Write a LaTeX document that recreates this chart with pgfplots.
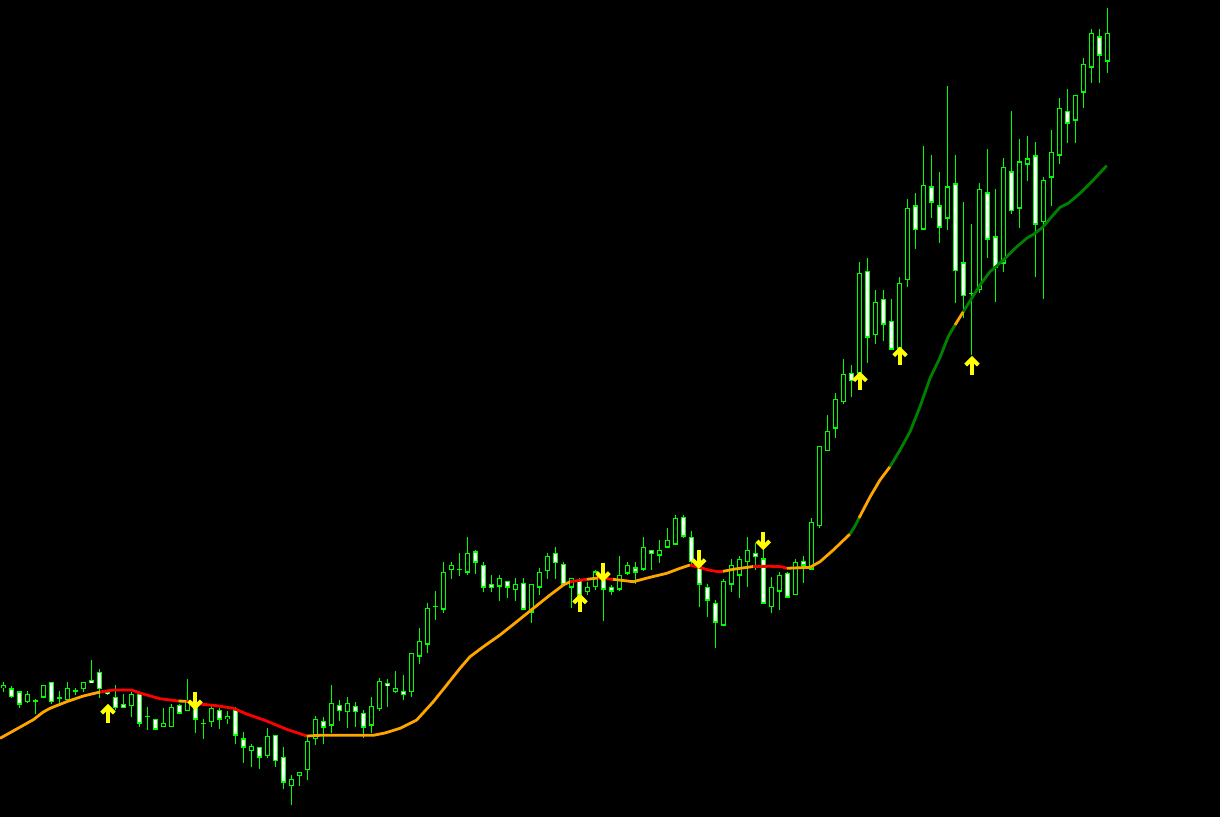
\documentclass[border=0pt]{standalone}
\usepackage{pgfplots}
\usepackage{pgfplotstable}
\pgfplotsset{compat=1.18}

\definecolor{candle}{RGB}{0,255,0}
\definecolor{maorange}{RGB}{255,165,0}
\definecolor{mared}{RGB}{255,0,0}
\definecolor{magreen}{RGB}{0,128,0}
\definecolor{sig}{RGB}{255,255,0}

% signal arrows
\pgfdeclareplotmark{sigup}{%
  \pgfsetlinewidth{4pt}\pgfsetbuttcap\pgfsetmiterjoin
  \pgfpathmoveto{\pgfpoint{0pt}{-9pt}}\pgfpathlineto{\pgfpoint{0pt}{6.5pt}}\pgfusepathqstroke
  \pgfpathmoveto{\pgfpoint{-6.3pt}{0.5pt}}\pgfpathlineto{\pgfpoint{0pt}{6.8pt}}%
  \pgfpathlineto{\pgfpoint{6.3pt}{0.5pt}}\pgfusepathqstroke}
\pgfdeclareplotmark{sigdown}{%
  \pgfsetlinewidth{4pt}\pgfsetbuttcap\pgfsetmiterjoin
  \pgfpathmoveto{\pgfpoint{0pt}{9pt}}\pgfpathlineto{\pgfpoint{0pt}{-6.5pt}}\pgfusepathqstroke
  \pgfpathmoveto{\pgfpoint{-6.3pt}{-0.5pt}}\pgfpathlineto{\pgfpoint{0pt}{-6.8pt}}%
  \pgfpathlineto{\pgfpoint{6.3pt}{-0.5pt}}\pgfusepathqstroke}

% candles in screen units (smaller = higher price)
\pgfplotstableread{
i o h l c
0 687.7 682.3 691.7 685.3
1 688.7 685.7 697.7 696.7
2 691.7 690.7 707.7 704.3
3 701.7 691 703.3 694.3
4 701 698.7 714 701
5 697.3 685 697.3 685.3
6 682.3 682 704.3 701.7
7 697.5 691.3 704 697.5
8 700 682 702.7 688.3
9 691 688 695 691
10 689 682.3 692.3 682.3
11 680.3 660 683 682.7
12 672.3 669.3 697.7 688.7
13 691.7 689.7 695 694
14 697.3 685.3 710 707.7
15 704.3 694 707.7 707.7
16 705.7 691.7 716.7 694.3
17 694.3 693 726.7 723.3
18 716.3 707 730 716.3
19 719.3 719 729.5 729.3
20 726.7 708.3 726.7 723.3
21 726.7 704.3 726.7 707.3
22 705.3 704 714 713.3
23 710.7 679 710.7 702
24 705.3 701.7 732.7 719.3
25 723.3 719.3 738.7 723.3
26 721.7 705.3 727.3 708
27 710.3 708.3 729.3 719.3
28 718.7 710.7 724 716.3
29 710 707.3 744 735.3
30 738.7 732 763.3 747.3
31 750.7 744 766.7 746
32 747.3 747.3 769.3 757.3
33 755.7 728 758 736.3
34 735.3 735.3 766.7 760.7
35 757.3 747 789 782.3
36 785.7 775 805 779.3
37 775.7 772 785.7 772
38 769.7 736.7 780 741.3
39 738.7 716 745 719.3
40 721.3 716.7 744 727.3
41 725.3 685 733.3 703
42 705.3 700 721.3 710.7
43 711.7 697.3 728.3 703
44 706.3 702.3 726.7 711.7
45 713.3 710 738.3 727.3
46 725.3 697.3 733.3 706.3
47 708.7 678.3 711 681.3
48 683.3 679.3 706.7 685.7
49 691.3 671 692.7 688.3
50 691.3 675 700.3 694.7
51 691.7 653.3 696.7 653.3
52 656.3 628 664 641.3
53 644.3 603.3 653.3 608.3
54 606.3 591 619.7 606.3
55 609.3 562 612.7 572.3
56 569.7 562 578.7 565.3
57 569.3 553 576 569.3
58 572.3 537 575 553.3
59 551.7 550 574 562.3
60 565.3 562 591.7 587.3
61 584.3 575 591.7 587.7
62 586.3 575.3 600.7 578.3
63 581.3 581.3 597.7 587.3
64 589.7 578 600.7 584.3
65 583.3 578.3 609.3 609.3
66 612.3 584.3 622.7 584.3
67 587.3 568.3 595.3 572.3
68 570.7 552.7 578.7 556.3
69 553.3 547 578.7 562.7
70 564.3 562.3 585.7 584.3
71 587.3 578.3 608.3 578.3
72 580.3 578.3 598 595.3
73 591.7 582 595 587.3
74 586.7 570 590 571.7
75 575 563 620.7 589.3
76 587.3 585.3 594.7 591.3
77 589.3 556 590.7 575.3
78 573.3 562 575.3 565.3
79 567.7 562 584.3 572.3
80 569.3 537 571 547.3
81 550.3 550.3 570 553.3
82 555.3 540.3 563.3 550.3
83 547.3 528 548 540.3
84 544.3 515 544.7 518.3
85 517.3 515 537.7 536.3
86 537.3 531.3 566.7 561.7
87 566.7 563 606.7 584.3
88 587.3 584 616.7 600.3
89 603.3 600 647.7 622.3
90 625.3 578.7 626 581.3
91 584.3 559.3 591.7 565.3
92 575.3 556 597.7 559.3
93 561.7 537 586.7 550.3
94 553.3 543.3 570 556.3
95 558.7 549 604 603.3
96 606.7 577.3 612.7 587.3
97 591.3 572 609.7 575.3
98 573.3 571.7 597.3 597.3
99 594.7 559.3 594.7 562.3
100 561.3 556.3 583.3 565.3
101 569.3 518.3 569.3 522.3
102 525.7 446.3 528.3 446.3
103 450.7 415 450.7 431.3
104 428.3 393.3 437.7 399.3
105 401.7 359 403.7 374.3
106 373.3 365 396.7 381
107 373.3 262.3 375 273.3
108 271.3 258.3 362.7 337.3
109 334.7 290.3 343.7 302.3
110 299.3 290.3 340.7 324.3
111 321.3 299.3 349.3 349.3
112 348.3 277.3 348.3 283.3
113 280 199.3 287.3 208.3
114 205.7 193.3 249.3 230
115 229.3 146 230 185.3
116 186.7 155 218.3 202.3
117 205.7 171.7 243.3 227.3
118 218.3 86 230 186.7
119 183.7 155 302.7 271
120 262.7 202 318.3 296
121 293.3 224 355 293.3
122 290 183.3 293.3 189.3
123 192.7 149.3 258.3 239.3
124 236.7 189.3 301.7 267.7
125 263.3 158.3 271.7 167.3
126 171.7 111 214.3 211
127 208.3 139.3 227.7 161.7
128 164.3 136 181 158.7
129 155.7 142.3 277.3 224.3
130 221.7 177 299.3 180.3
131 177.3 130 205.7 152.3
132 155.3 98.3 164 108.3
133 111.3 89 142.7 123.3
134 120.3 95.3 142.7 95.3
135 92.3 58.3 108.3 64.3
136 67.3 29.3 83.3 33.3
137 36.7 29.3 83.3 55.3
138 61.3 8.3 73.3 33.3
}\candles

\begin{document}
\begin{tikzpicture}
\begin{axis}[
    scale only axis,
    width=1220pt, height=817pt,
    xmin=0, xmax=1220, ymin=0, ymax=817,
    y dir=reverse,
    axis background/.style={fill=black},
    axis line style={draw=none},
    ticks=none,
    candle bar/.style={draw=none, mark=none,
        error bars/.cd, y dir=both, y explicit, error mark=none},
]
% wicks
\addplot[candle bar,
    error bar style={line width=1.4pt, draw=candle}]
    table[x expr=3.5+8*\thisrow{i}, y expr={0.5*(\thisrow{h}+\thisrow{l})},
          y error expr={0.5*(\thisrow{l}-\thisrow{h})}] {\candles};
% body outlines
\addplot[candle bar,
    error bar style={line width=5.6pt, draw=candle}]
    table[x expr=3.5+8*\thisrow{i}, y expr={0.5*(\thisrow{o}+\thisrow{c})},
          y error expr={max(0.5*abs(\thisrow{c}-\thisrow{o})+0.3,0.7)}] {\candles};
% bull bodies (hollow)
\addplot[restrict expr to domain={\thisrow{o}-\thisrow{c}}{0.01:1000},
    candle bar, error bar style={line width=3pt, draw=black}]
    table[x expr=3.5+8*\thisrow{i}, y expr={0.5*(\thisrow{o}+\thisrow{c})},
          y error expr={max(0.5*abs(\thisrow{c}-\thisrow{o})-1,0)}] {\candles};
% bear bodies (filled)
\addplot[restrict expr to domain={\thisrow{c}-\thisrow{o}}{0.01:1000},
    candle bar, error bar style={line width=3pt, draw=white}]
    table[x expr=3.5+8*\thisrow{i}, y expr={0.5*(\thisrow{o}+\thisrow{c})},
          y error expr={max(0.5*abs(\thisrow{c}-\thisrow{o})-1,0)}] {\candles};

% moving average, coloured by slope state
\pgfplotsset{every axis plot/.append style={line width=2.8pt, line join=round}}
\addplot[maorange] coordinates {(0,738.3) (16.7,729) (33.3,719.7) (43.3,712) (50,708.3) (66.7,701.7) (83.3,696) (100,692)};
\addplot[mared] coordinates {(100,692) (113.3,690) (131.7,690) (140,693) (160,698.7) (178.3,701)};
\addplot[maorange] coordinates {(178.3,701) (186.7,701.3)};
\addplot[mared] coordinates {(186.7,701.3) (200,704) (216.7,705.7) (233.3,708.3) (246.7,714) (266.7,721) (286.7,729.3) (306.7,736)};
\addplot[maorange] coordinates {(306.7,736) (320,735.3) (373.3,735.3) (385,733) (400,728.3) (416.7,720) (433.3,701.7) (446.7,685) (460,668.3) (470,656.7) (483.3,646.7) (500,635) (516.7,621.7) (533.3,608.3) (550,595) (563.3,585) (570,581.7)};
\addplot[mared] coordinates {(570,581.7) (586.7,579.3)};
\addplot[maorange] coordinates {(586.7,579.3) (598,578)};
\addplot[mared] coordinates {(598,578) (613,579.3)};
\addplot[maorange] coordinates {(613,579.3) (633.3,581.7) (650,577.3) (666.7,573.3) (680,568.3) (690,565)};
\addplot[mared] coordinates {(690,565) (700,567.7) (710,570.3) (718.3,571.7) (723,571.3)};
\addplot[maorange] coordinates {(723,571.3) (735,569) (753.3,566.5)};
\addplot[mared] coordinates {(753.3,566.5) (770,566.3) (781.7,566.7) (786.7,568.3)};
\addplot[maorange] coordinates {(786.7,568.3) (800,567.7) (810,567.3) (820,561.7) (833.3,550) (850,534)};
\addplot[magreen] coordinates {(850,534) (855,526) (859,518)};
\addplot[maorange] coordinates {(859,518) (870,497) (880,480) (890,466.7)};
\addplot[magreen] coordinates {(890,466.7) (900,450) (910,431.7) (920,406.7) (930,378.3) (940,357.5) (948,337) (955,325)};
\addplot[maorange] coordinates {(955,325) (963.3,311.7)};
\addplot[magreen] coordinates {(963.3,311.7) (971.7,298.3) (980,285) (990,271.7) (1003.3,260) (1015,248.3) (1026.7,238.3) (1035,233.3) (1043.3,226.7) (1051.7,216.7) (1060,207.3) (1068.3,203.3) (1080,193.3) (1091.7,181.7) (1106.7,165.7)};

% signals
\addplot[only marks, mark=sigup, sig] coordinates {(108,713.5) (580,603.3) (860,381.2) (900,356.2) (972,365.5)};
\addplot[only marks, mark=sigdown, sig] coordinates {(195,700.5) (603,572.2) (698.7,559.2) (763.3,540.5)};
\end{axis}
\pgfresetboundingbox
\path (current axis.south west) rectangle (current axis.north east);
\end{tikzpicture}
\end{document}
